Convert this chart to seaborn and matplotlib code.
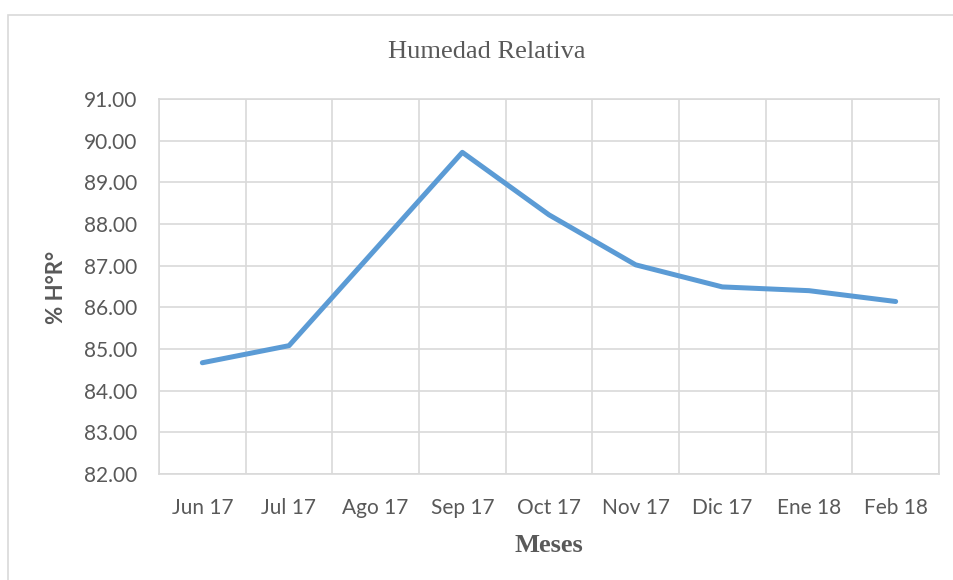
import numpy as np
import pandas as pd
import matplotlib
matplotlib.use('Agg')
import matplotlib.pyplot as plt
import seaborn as sns
from matplotlib.patches import Rectangle

# datos
meses = ['Jun 17', 'Jul 17', 'Ago 17', 'Sep 17', 'Oct 17', 'Nov 17', 'Dic 17', 'Ene 18', 'Feb 18']
humedad = [84.67, 85.08, 87.40, 89.72, 88.22, 87.02, 86.49, 86.40, 86.14]
y_ticks = [82, 83, 84, 85, 86, 87, 88, 89, 90, 91]

df = pd.DataFrame({'Mes': meses, 'HR': humedad})

sns.set_theme(style='white')
plt.rcParams['font.family'] = ['Lato', 'DejaVu Sans']

gris = '#595959'
grid_c = '#D9D9D9'

fig = plt.figure(figsize=(9.54, 5.8), dpi=100)
ax = fig.add_axes([159/954, 1 - 474/580, (939 - 159)/954, (474 - 99)/580])

sns.lineplot(data=df, x='Mes', y='HR', ax=ax, color='#5B9BD5', linewidth=3.6, sort=False)

ax.set_xlim(-0.5, len(meses) - 0.5)
ax.set_ylim(82, 91)
ax.set_yticks(y_ticks)
ax.set_yticklabels([f'{v:.2f}' for v in y_ticks])
ax.set_xticks(range(len(meses)))
ax.set_xticklabels(meses)
ax.set_xticks(np.arange(-0.5, len(meses), 1), minor=True)

ax.grid(axis='y', which='major', color=grid_c, linewidth=1.2)
ax.grid(axis='x', which='minor', color=grid_c, linewidth=1.2)
ax.grid(axis='x', which='major', visible=False)
ax.set_axisbelow(True)
for s in ax.spines.values():
    s.set_color(grid_c)
    s.set_linewidth(1.2)

ax.tick_params(axis='both', which='both', length=0, labelsize=15, colors=gris)
ax.tick_params(axis='y', pad=16)
ax.tick_params(axis='x', pad=17)
ax.set_xlabel('')
ax.set_ylabel('')

fig.text(487/954, 1 - 52/580, 'Humedad Relativa', ha='center', va='center',
         fontsize=19, color=gris, family='Liberation Serif')
fig.text(549/954, 1 - 545/580, 'Meses', ha='center', va='center',
         fontsize=19, color=gris, family='Liberation Serif', fontweight='bold')
fig.text(57/954, 1 - 287/580, '% H°R°', ha='center', va='center', rotation=90,
         fontsize=16, color=gris, fontweight='bold')

# marco exterior
fig.patches.append(Rectangle((8/954, -0.1), 1.2, 1 - 15/580 + 0.1, transform=fig.transFigure,
                             fill=False, edgecolor=grid_c, linewidth=1.2))

fig.savefig('out.png', dpi=100)
